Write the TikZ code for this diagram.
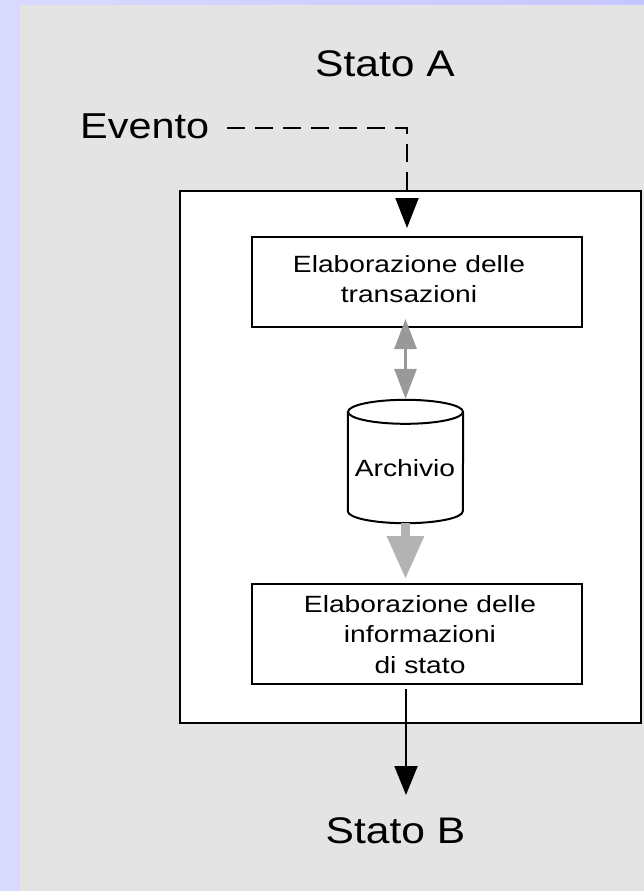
\documentclass[tikz,border=0pt]{standalone}
\usepackage{fontspec}
\setmainfont{Liberation Sans}
\newfontfamily\bigfam{Liberation Sans}[FakeStretch=1.15]
\newfontfamily\smallfam{Liberation Sans}[FakeStretch=1.2]
\usetikzlibrary{arrows.meta,calc}
\definecolor{lav1}{HTML}{DADAFF}
\definecolor{lav2}{HTML}{C6C6FF}
\definecolor{bggrey}{HTML}{E4E4E4}
\definecolor{darkgr}{HTML}{999999}
\definecolor{lightgr}{HTML}{B3B3B3}
\tikzset{
  boxnode/.style={draw=black, line width=2pt, fill=white, inner sep=0pt},
  bigtxt/.style={inner sep=0pt, font=\bigfam\fontsize{37}{44}\selectfont},
  evtxt/.style={inner sep=0pt, font=\bigfam\fontsize{36}{42}\selectfont},
  smalltxt/.style={inner sep=0pt, align=center, font=\smallfam\fontsize{23.5}{30.5}\selectfont},
  blackarrow/.style={line width=2pt, -{Triangle[length=29pt,width=23pt]}},
  dasharrow/.style={line width=2pt, dash pattern=on 18pt off 10pt, -{Triangle[length=30pt,width=23pt]}},
}
\begin{document}
\begin{tikzpicture}[x=1pt,y=-1pt]
\useasboundingbox (0,0) rectangle (644,891);
\shade[left color=lav1, right color=lav2] (0,0) rectangle (644,891);
\fill[bggrey] (20,5) rectangle (644,891);

% outer box
\node[boxnode, minimum width=461pt, minimum height=532pt] (outer) at (410.5,457) {};
% top box
\node[boxnode, minimum width=330pt, minimum height=90pt] (T) at (417,282) {};
\node[smalltxt, anchor=north] (Ttxt) at (409,255.2) {Elaborazione delle\\transazioni};
% bottom box
\node[boxnode, minimum width=330pt, minimum height=100pt] (B) at (417,634) {};
\node[smalltxt, anchor=north] (Btxt) at (420,595.2) {Elaborazione delle\\informazioni\\di stato};

% cylinder
\node[inner sep=0pt, minimum width=115pt, minimum height=123pt] (cyl) at (405.5,461.5) {};
\filldraw[fill=white, draw=black, line width=2pt]
  ($(cyl.north west)+(0,12)$) -- ($(cyl.south west)+(0,-12)$)
  arc[start angle=180, end angle=360, x radius=57.5pt, y radius=12pt]
  -- ($(cyl.north east)+(0,12)$);
\filldraw[fill=white, draw=black, line width=2pt] ($(cyl.north)+(0,12)$) ellipse [x radius=57.5pt, y radius=12pt];
\node[inner sep=0pt, anchor=base, font=\smallfam\fontsize{23.5}{30.5}\selectfont] (arch) at (405,476.7) {Archivio};

% texts
\node[bigtxt, anchor=base] (stA) at (385,77) {Stato A};
\node[bigtxt, anchor=base] (stB) at (395.5,843) {Stato B};
\node[evtxt, anchor=base west] (ev) at (80,138) {Evento};

% gray double arrow
\coordinate (up) at ($(cyl.north |- T.south)+(0,-9)$);
\draw[darkgr, line width=3pt, {Triangle[length=30pt,width=22pt]}-{Triangle[length=30pt,width=22pt]}] (up) -- ($(cyl.north)+(0,-1)$);
% lighter gray arrow
\draw[lightgr, line width=9pt, -{Triangle[length=43pt,width=35pt]}] (cyl.south) -- ($(cyl.south |- B.north)+(0,-4)$);

% black arrow to Stato B
\coordinate (endB) at (406,795);
\draw[blackarrow] ($(endB |- B.south)+(0,4)$) -- (endB);

% dashed Evento arrow
\coordinate (corner) at (407,128);
\coordinate (evtip) at (407,228);
\draw[dasharrow] ($(ev.east |- corner)+(18,0)$) -- (corner) -- (evtip);
\end{tikzpicture}
\end{document}
